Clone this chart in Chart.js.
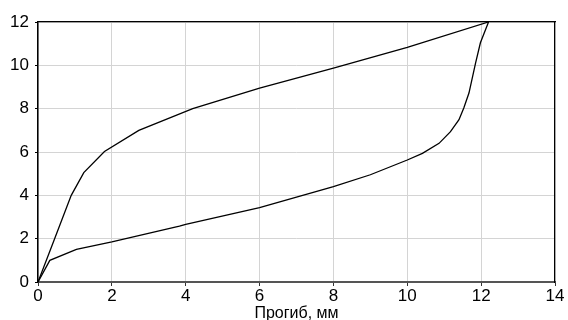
<!DOCTYPE html>
<html>
<head>
<meta charset="utf-8">
<script src="https://cdn.jsdelivr.net/npm/chart.js@4"></script>
<style>
html, body { margin: 0; padding: 0; background: #fff; }
#wrap { width: 568px; height: 320px; }
</style>
</head>
<body>
<div id="wrap"><canvas id="deflChart" width="568" height="320"></canvas></div>
<script>
// нагружение (верхняя ветвь)
const loadX = [0, 0.45, 0.9, 1.24, 1.8, 2.73, 4.19, 6, 8, 10, 12.2];
const loadY = [0, 2.0, 4.0, 5.05, 6.02, 7.0, 8.0, 8.95, 9.87, 10.83, 12];
// разгрузка (нижняя ветвь)
const unloadX = [0, 0.32, 1.04, 2, 3.83, 4, 6, 8, 9, 10, 10.41, 10.86, 11.17, 11.4, 11.53, 11.67, 11.85, 11.98, 12.2];
const unloadY = [0, 1.0, 1.51, 1.85, 2.58, 2.66, 3.43, 4.4, 4.95, 5.63, 5.94, 6.4, 6.94, 7.49, 8.03, 8.72, 10.11, 11.04, 12];

const xTitle = 'Прогиб, мм';

const makeXY = (xs, ys) => xs.map((x, i) => ({x: x, y: ys[i]}));

const ctx = document.getElementById('deflChart');
const tickFont = {family: 'Liberation Sans, Arial, sans-serif', size: 17};

new Chart(ctx, {
    type: 'scatter',
    data: {
        datasets: [{
            data: makeXY(loadX, loadY),
            showLine: true,
            borderColor: '#000',
            borderWidth: 1.3,
            pointRadius: 0,
            tension: 0
        }, {
            data: makeXY(unloadX, unloadY),
            showLine: true,
            borderColor: '#000',
            borderWidth: 1.3,
            pointRadius: 0,
            tension: 0
        }]
    },
    options: {
        responsive: false,
        animation: false,
        layout: {padding: {left: 0, top: 22, right: 13, bottom: 0}},
        plugins: {legend: {display: false}, tooltip: {enabled: false}},
        scales: {
            x: {
                type: 'linear',
                position: 'bottom',
                min: 0, max: 14,
                ticks: {stepSize: 2, color: '#000', font: tickFont, padding: 0, maxRotation: 0},
                grid: {color: '#d4d4d4', lineWidth: 1, tickLength: 4, tickColor: '#333'},
                border: {display: true, color: '#555', width: 2},
                title: {display: true, text: xTitle, color: '#000', font: {family: 'Liberation Sans, Arial, sans-serif', size: 16}, padding: {top: 0, bottom: -3}},
                afterFit: (s) => { s.height = 38; }
            },
            y: {
                min: 0, max: 12,
                ticks: {stepSize: 2, color: '#000', font: tickFont, padding: 6},
                grid: {color: '#d4d4d4', lineWidth: 1, tickLength: 3, tickColor: '#000'},
                border: {display: true, color: '#000', width: 1.5},
                afterFit: (s) => { s.width = 38; }
            },
            x2: {
                type: 'linear',
                position: 'top',
                min: 0, max: 14,
                ticks: {display: false},
                grid: {display: false},
                border: {display: true, color: '#000', width: 1.2},
                afterFit: (s) => { s.height = 0; }
            },
            y2: {
                position: 'right',
                min: 0, max: 12,
                ticks: {display: false},
                grid: {display: false},
                border: {display: true, color: '#000', width: 1.2},
                afterFit: (s) => { s.width = 0; }
            }
        }
    }
});
</script>
</body>
</html>
